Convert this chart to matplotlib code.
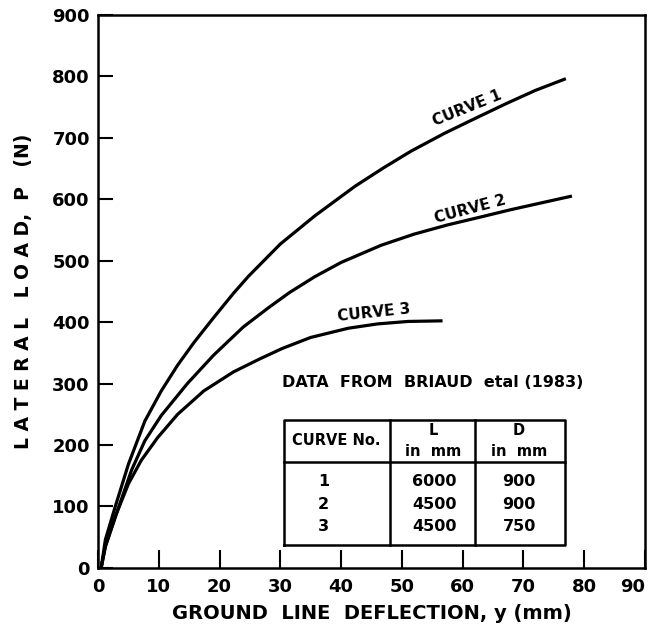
import matplotlib
matplotlib.use("Agg")
import matplotlib.pyplot as plt

# valores (deflexao em mm, carga em N)
y1 = [0.5, 1.2, 2.8, 5.0, 7.7, 10.4, 13.1, 15.8, 19.0, 22.3, 24.8, 30.0, 35.7, 42.3, 47.0, 51.5, 57.0, 62.0, 67.3, 72.0, 77.0]
p1 = [0, 46, 99, 169, 239, 288, 330, 367, 407, 447, 475, 527, 573, 621, 651, 678, 707, 731, 756, 777, 796]

y2 = [0.5, 1.2, 3.4, 5.5, 7.7, 10.4, 14.7, 19.0, 23.9, 28.0, 31.5, 35.7, 40.0, 46.6, 52.0, 57.5, 63.0, 68.0, 73.0, 78.0]
p2 = [0, 35, 99, 159, 207, 248, 300, 346, 392, 423, 448, 474, 497, 525, 543, 558, 571, 583, 594, 605]

y3 = [0.5, 1.2, 2.8, 5.0, 7.1, 9.8, 13.1, 17.4, 22.3, 26.6, 30.3, 35.0, 41.2, 46.0, 51.0, 56.7]
p3 = [0, 35, 83, 137, 175, 212, 250, 288, 319, 340, 357, 375, 390, 397, 401, 402]

curvas = ["1", "2", "3"]
comprimentos = ["6000", "4500", "4500"]
diametros = ["900", "900", "750"]

xticks = [0, 10, 20, 30, 40, 50, 60, 70, 80, 90]
yticks = [0, 100, 200, 300, 400, 500, 600, 700, 800, 900]

fig = plt.figure(figsize=(6.54, 6.41), dpi=100)
ax = fig.add_axes([0.150, 0.114, 0.836, 0.863])

for x, p in [(y1, p1), (y2, p2), (y3, p3)]:
    ax.plot(x, p, color='black', lw=2.3, solid_capstyle='butt', solid_joinstyle='round')

ax.set_xlim(0, 90)
ax.set_ylim(0, 900)
ax.set_xticks(xticks)
ax.set_yticks(yticks)
ax.tick_params(axis='x', direction='in', length=13, width=1.5, pad=7, labelsize=13)
ax.tick_params(axis='y', direction='in', length=11, width=1.5, pad=6, labelsize=13)
for lab in ax.get_xticklabels() + ax.get_yticklabels():
    lab.set_fontweight('bold')
ax.get_xticklabels()[-1].set_horizontalalignment('right')
for s in ax.spines.values():
    s.set_linewidth(1.8)

ax.set_xlabel('GROUND  LINE  DEFLECTION, y (mm)', fontsize=14, fontweight='bold', labelpad=6)
ax.set_ylabel('L A T E R A L   L O A D,  P   (N)', fontsize=13.5, fontweight='bold', labelpad=14)

# nomes das curvas
ax.text(60.8, 748, 'CURVE 1', rotation=22, ha='center', va='center', fontsize=11, fontweight='bold')
ax.text(61.3, 583, 'CURVE 2', rotation=15, ha='center', va='center', fontsize=11, fontweight='bold')
ax.text(45.4, 416, 'CURVE 3', rotation=6, ha='center', va='center', fontsize=11, fontweight='bold')

ax.text(30.2, 301, 'DATA  FROM  BRIAUD  etal (1983)', ha='left', va='center', fontsize=11.5, fontweight='bold')

# tabela
x0, x1, xa, xb = 30.6, 76.8, 48.0, 62.0
ya, yb, yh = 37, 241, 173
ax.plot([x0, x1, x1, x0, x0], [ya, ya, yb, yb, ya], color='black', lw=1.8)
ax.plot([x0, x1], [yh, yh], color='black', lw=1.8)
ax.plot([xa, xa], [ya, yb], color='black', lw=1.8)
ax.plot([xb, xb], [ya, yb], color='black', lw=1.8)

ax.text(39.2, 207, 'CURVE No.', ha='center', va='center', fontsize=10.5, fontweight='bold')
ax.text(55.2, 224, 'L', ha='center', va='center', fontsize=10.5, fontweight='bold')
ax.text(55.2, 190, 'in  mm', ha='center', va='center', fontsize=10.5, fontweight='bold')
ax.text(69.3, 224, 'D', ha='center', va='center', fontsize=10.5, fontweight='bold')
ax.text(69.3, 190, 'in  mm', ha='center', va='center', fontsize=10.5, fontweight='bold')

linhas_p = [140, 103, 68]
for c, l, d, yy in zip(curvas, comprimentos, diametros, linhas_p):
    ax.text(37.1, yy, c, ha='center', va='center', fontsize=11.5, fontweight='bold')
    ax.text(55.4, yy, l, ha='center', va='center', fontsize=11.5, fontweight='bold')
    ax.text(69.3, yy, d, ha='center', va='center', fontsize=11.5, fontweight='bold')

fig.savefig('out.png', dpi=100)
